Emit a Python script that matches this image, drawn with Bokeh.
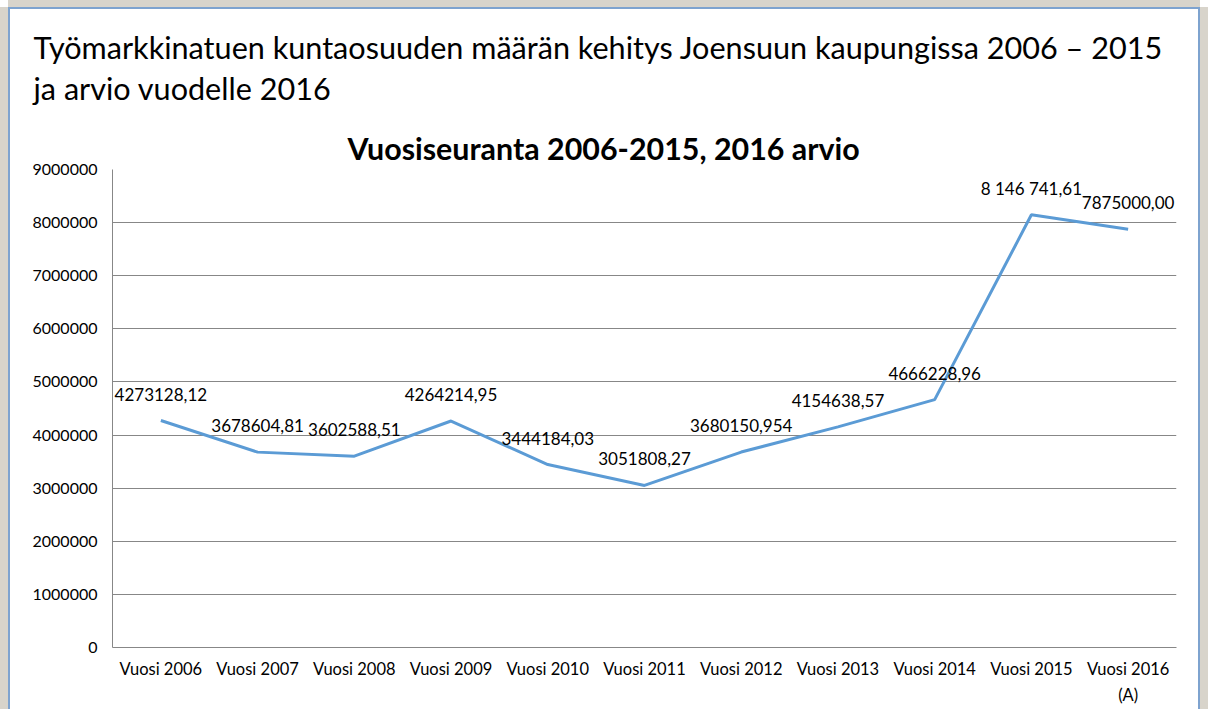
from bokeh.plotting import figure
from bokeh.models import (ColumnDataSource, Range1d, LabelSet, FactorRange, FixedTicker,
                          Title, CategoricalAxis)
from bokeh.embed import file_html
from bokeh.resources import INLINE
from bokeh.core.properties import value

categories = ["Vuosi 2006", "Vuosi 2007", "Vuosi 2008", "Vuosi 2009", "Vuosi 2010",
              "Vuosi 2011", "Vuosi 2012", "Vuosi 2013", "Vuosi 2014", "Vuosi 2015",
              "Vuosi 2016"]
category_notes = ["", "", "", "", "", "", "", "", "", "", "(A)"]
values = [4273128.12, 3678604.81, 3602588.51, 4264214.95, 3444184.03, 3051808.27,
          3680150.954, 4154638.57, 4666228.96, 8146741.61, 7875000.00]
value_labels = ["4273128,12", "3678604,81", "3602588,51", "4264214,95", "3444184,03",
                "3051808,27", "3680150,954", "4154638,57", "4666228,96", "8 146 741,61",
                "7875000,00"]
y_ticks = [0, 1000000, 2000000, 3000000, 4000000, 5000000, 6000000, 7000000, 8000000, 9000000]

header_line1 = "Työmarkkinatuen kuntaosuuden määrän kehitys Joensuun kaupungissa 2006 – 2015"
header_line2 = "ja arvio vuodelle 2016"
chart_title = "Vuosiseuranta 2006-2015, 2016 arvio"

FONT = "Lato"
FRAME_C = "#D8D4CB"

src = ColumnDataSource(dict(x=categories, y=values, lbl=value_labels))

p = figure(width=1192, height=702, x_range=FactorRange(*categories),
           y_range=Range1d(0, 9000000), output_backend="svg", toolbar_location=None,
           min_border_left=102, min_border_right=26, min_border_top=160, min_border_bottom=64)
p.margin = (7, 0, 0, 8)
p.styles = {"border-top": "2px solid #7EA3CF", "border-left": "2px solid #7EA3CF",
            "border-right": "2px solid #7EA3CF",
            "box-shadow": f"-8px 0 0 0 {FRAME_C}, 8px 0 0 0 {FRAME_C}, 0 -7px 0 0 {FRAME_C}"}
p.outline_line_color = None
p.background_fill_color = "white"
p.border_fill_color = "white"

p.line("x", "y", source=src, line_color="#5B9BD5", line_width=3)

p.add_layout(LabelSet(x="x", y="y", text="lbl", source=src, text_align="center",
                      text_baseline="alphabetic", y_offset=20, text_font=value(FONT),
                      text_font_size="17px", text_color="#000000"))

p.xgrid.grid_line_color = None
p.ygrid.grid_line_color = "#878787"
p.ygrid.grid_line_width = 1

p.yaxis.ticker = FixedTicker(ticks=y_ticks)
p.yaxis.major_label_overrides = {t: str(t) for t in y_ticks}
p.yaxis.major_tick_line_color = None
p.yaxis.major_tick_out = 0
p.yaxis.major_tick_in = 0
p.yaxis.minor_tick_line_color = None
p.yaxis.minor_tick_out = 0
p.yaxis.axis_line_color = "#878787"
p.yaxis.major_label_text_font = FONT
p.yaxis.major_label_text_font_size = "16px"
p.yaxis.major_label_text_color = "#000000"
p.yaxis.major_label_standoff = 15

p.xaxis.major_tick_line_color = None
p.xaxis.major_tick_out = 0
p.xaxis.major_tick_in = 0
p.xaxis.minor_tick_line_color = None
p.xaxis.minor_tick_out = 0
p.xaxis.axis_line_color = "#878787"
p.xaxis.major_label_text_font = FONT
p.xaxis.major_label_text_font_size = "16.5px"
p.xaxis.major_label_text_color = "#000000"
p.xaxis.major_label_standoff = 11

# second line of the category labels ("(A)" under the estimate year)
note_factors = [n if n else " " * (i + 1) for i, n in enumerate(category_notes)]
p.extra_x_ranges = {"notes": FactorRange(*note_factors)}
ax2 = CategoricalAxis(x_range_name="notes", axis_line_color=None,
                      major_tick_line_color=None, major_tick_out=0, major_tick_in=0,
                      minor_tick_line_color=None, minor_tick_out=0,
                      major_label_text_font=FONT, major_label_text_font_size="16.5px",
                      major_label_text_color="#000000", major_label_standoff=3)
p.add_layout(ax2, "below")

p.add_layout(Title(text=chart_title, align="left", offset=235, text_font=FONT,
                   text_font_size="30.4px", text_font_style="bold", text_color="#000000",
                   standoff=7), "above")
p.add_layout(Title(text=header_line2, align="left", offset=-79, text_font=FONT,
                   text_font_size="30.6px", text_font_style="normal", text_color="#000000",
                   standoff=35), "above")
p.add_layout(Title(text=header_line1, align="left", offset=-79, text_font=FONT,
                   text_font_size="30.6px", text_font_style="normal", text_color="#000000",
                   standoff=-30), "above")

open("out.html", "w").write(file_html(p, INLINE))
